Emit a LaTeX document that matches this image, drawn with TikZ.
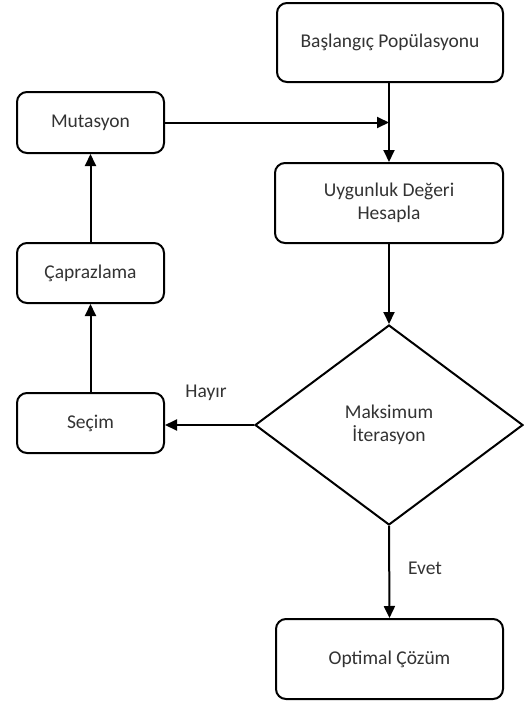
\documentclass[tikz,border=0pt]{standalone}
\usepackage{fontspec}
\setmainfont{Carlito}
\usetikzlibrary{shapes.geometric,arrows.meta}
\definecolor{txt}{HTML}{333333}
\tikzset{
  box/.style={draw=black, line width=2pt, rounded corners=10pt, fill=white,
    inner sep=0pt, align=center, text=txt, font=\fontsize{19.5}{23.5}\selectfont},
  dec/.style={draw=black, line width=2pt, diamond, inner sep=0pt, align=center,
    text=txt, font=\fontsize{19.5}{23.5}\selectfont, minimum width=268pt, minimum height=200pt},
  arr/.style={line width=2pt, -{Triangle[length=12pt,width=11pt]}},
  lab/.style={text=txt, font=\fontsize{19.5}{23.5}\selectfont, inner sep=0pt}
}
\begin{document}
\begin{tikzpicture}[x=1pt,y=-1pt]
\useasboundingbox (0,0) rectangle (524,702);
\node[box, minimum width=226pt, minimum height=79pt] (start) at (390,42.5) {Başlangıç Popülasyonu};
\node[box, minimum width=228pt, minimum height=80pt] (uyg) at (389,203) {Uygunluk Değeri\\Hesapla};
\node[dec] (dia) at (389,425) {Maksimum\\İterasyon};
\node[box, minimum width=227pt, minimum height=80pt] (opt) at (389.5,659) {Optimal Çözüm};
\node[box, minimum width=147pt, minimum height=61pt] (mut) at (90.5,122.5) {Mutasyon};
\node[box, minimum width=147pt, minimum height=60pt] (cap) at (90.5,273) {Çaprazlama};
\node[box, minimum width=147pt, minimum height=60pt] (sec) at (90.5,423) {Seçim};
\coordinate (j) at (389,122.5);
\draw[arr] (start.south -| uyg.north) -- (uyg.north);
\draw[arr] (mut.east) -- (j);
\draw[arr] (uyg.south) -- (dia.north);
\draw[arr] (dia.west) -- (sec.east |- dia.west);
\draw[arr] (sec.north) -- (cap.south);
\draw[arr] (cap.north) -- (mut.south);
\draw[arr] (dia.south) -- (opt.north);
\node[lab] (hayir) at (206,393) {Hayır};
\node[lab] (evet) at (425,568) {Evet};
\end{tikzpicture}
\end{document}
